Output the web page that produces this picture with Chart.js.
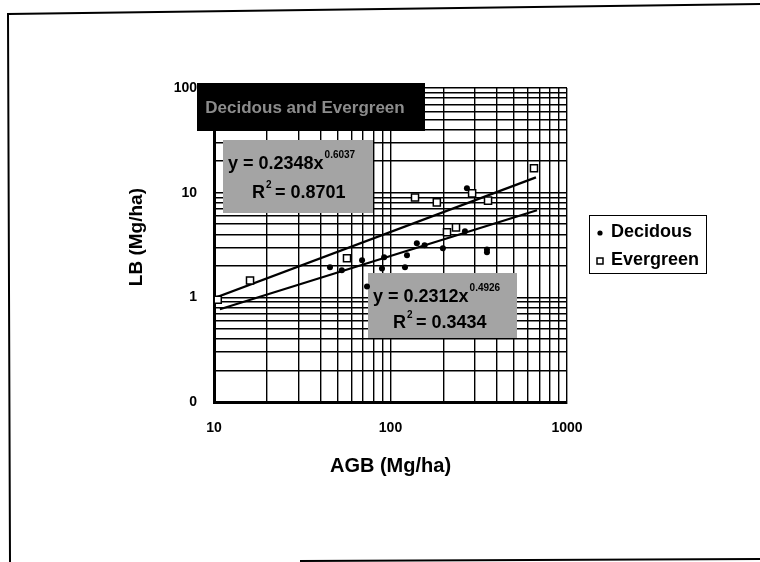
<!DOCTYPE html>
<html>
<head>
<meta charset="utf-8">
<script src="https://cdn.jsdelivr.net/npm/chart.js@4.4.1/dist/chart.umd.min.js"></script>
<style>
  html, body { margin: 0; padding: 0; background: #fff; }
  canvas { display: block; }
</style>
</head>
<body>
<canvas id="c" width="760" height="562"></canvas>
<script>
// ---- Data ----
const deciduousX = [45.4, 53, 69, 73.6, 89.5, 92, 120.8, 124, 141, 156, 198, 264, 271, 352, 352];
const deciduousY = [1.94, 1.81, 2.26, 1.27, 1.89, 2.41, 1.94, 2.52, 3.28, 3.14, 2.94, 4.27, 11.0, 2.87, 2.70];

const evergreenX = [10.5, 16.0, 56.7, 137.7, 183, 209, 235, 290, 357, 650];
const evergreenY = [0.95, 1.45, 2.36, 9.0, 8.08, 4.18, 4.66, 9.85, 8.4, 17.1];

// trend-line end points as drawn in the picture
const evergreenTrendX = [10, 667];
const evergreenTrendY = [0.98, 14.0];
const deciduousTrendX = [10.8, 676];
const deciduousTrendY = [0.77, 6.8];

const seriesNames = ['Decidous', 'Evergreen'];
const titleText = 'Decidous and Evergreen';
const xTitle = 'AGB (Mg/ha)';
const yTitle = '   LB (Mg/ha)';
const xTickValues = [10, 100, 1000];
const xTickLabels = ['10', '100', '1000'];
const yTickValues = [0.1, 1, 10, 100];
const yTickLabels = ['0', '1', '10', '100'];
const eqEvergreen = ['y = 0.2348x', '0.6037', '0.8701'];
const eqDeciduous = ['y = 0.2312x', '0.4926', '0.3434'];

const FONT = "'Liberation Sans', Arial, sans-serif";

function pts(xs, ys) { return xs.map((x, i) => ({x: x, y: ys[i]})); }

function logTicks(min, max) {
  const out = [];
  for (let e = Math.floor(Math.log10(min)); e <= Math.ceil(Math.log10(max)); e++) {
    for (let s = 1; s <= 9; s++) {
      const v = +(s * Math.pow(10, e)).toPrecision(6);
      if (v >= min - 1e-9 && v <= max + 1e-9) out.push({value: v});
    }
  }
  return out;
}

function labelFor(values, labels) {
  return function (v) {
    for (let i = 0; i < values.length; i++) {
      if (Math.abs(v - values[i]) / values[i] < 1e-6) return labels[i];
    }
    return '';
  };
}

function drawEq(ctx, x, y, eq) {
  ctx.save();
  ctx.fillStyle = '#000';
  ctx.textBaseline = 'middle';
  ctx.textAlign = 'left';
  ctx.font = 'bold 18px ' + FONT;
  ctx.fillText(eq[0], x, y);
  const w = ctx.measureText(eq[0]).width;
  ctx.font = 'bold 10px ' + FONT;
  ctx.fillText(eq[1], x + w + 1, y - 9);
  ctx.restore();
}
function drawR2(ctx, x, y, val) {
  ctx.save();
  ctx.fillStyle = '#000';
  ctx.textBaseline = 'middle';
  ctx.textAlign = 'left';
  ctx.font = 'bold 18px ' + FONT;
  ctx.fillText('R', x, y);
  let w = ctx.measureText('R').width;
  ctx.font = 'bold 10px ' + FONT;
  ctx.fillText('2', x + w + 1, y - 8);
  ctx.font = 'bold 18px ' + FONT;
  ctx.fillText(' = ' + val, x + w + 5, y);
  ctx.restore();
}

const boxesPlugin = {
  id: 'boxes',
  beforeDatasetsDraw(chart) {
    const ctx = chart.ctx;
    ctx.save();
    // title box
    ctx.fillStyle = '#000';
    ctx.fillRect(197, 83, 228, 48);
    ctx.fillStyle = '#8c8c8c';
    ctx.font = 'bold 17px ' + FONT;
    ctx.textAlign = 'center';
    ctx.textBaseline = 'middle';
    ctx.fillText(titleText, 305, 108);
    // equation boxes
    ctx.fillStyle = '#a4a4a4';
    ctx.fillRect(223, 140, 150, 73);
    ctx.fillRect(368, 273, 149, 65);
    ctx.restore();
    drawEq(ctx, 228, 164, eqEvergreen);
    drawR2(ctx, 252, 193, eqEvergreen[2]);
    drawEq(ctx, 373, 297, eqDeciduous);
    drawR2(ctx, 393, 323, eqDeciduous[2]);
  },
  afterDraw(chart) {
    const ctx = chart.ctx;
    ctx.save();
    // legend
    ctx.fillStyle = '#fff';
    ctx.strokeStyle = '#000';
    ctx.lineWidth = 1;
    ctx.fillRect(589, 215, 117, 58);
    ctx.strokeRect(589.5, 215.5, 117, 58);
    ctx.fillStyle = '#000';
    ctx.beginPath();
    ctx.arc(600, 233, 2.6, 0, Math.PI * 2);
    ctx.fill();
    ctx.lineWidth = 1.5;
    ctx.strokeRect(597, 258, 6, 6);
    ctx.font = 'bold 18px ' + FONT;
    ctx.textBaseline = 'middle';
    ctx.textAlign = 'left';
    ctx.fillText(chart.data.datasets[0].label, 611, 232);
    ctx.fillText(chart.data.datasets[1].label, 611, 260);
    // outer frame
    ctx.lineWidth = 2;
    ctx.beginPath();
    ctx.moveTo(760, 4);
    ctx.lineTo(8, 14);
    ctx.lineTo(10, 562);
    ctx.moveTo(300, 561);
    ctx.lineTo(760, 559);
    ctx.stroke();
    ctx.restore();
  }
};

new Chart(document.getElementById('c'), {
  type: 'scatter',
  data: {
    datasets: [
      {
        label: seriesNames[0],
        data: pts(deciduousX, deciduousY),
        pointStyle: 'circle',
        pointRadius: 3,
        backgroundColor: '#000',
        borderColor: '#000',
        borderWidth: 0
      },
      {
        label: seriesNames[1],
        data: pts(evergreenX, evergreenY),
        pointStyle: 'rect',
        pointRadius: 5,
        backgroundColor: '#fff',
        borderColor: '#000',
        borderWidth: 1.5
      },
      {
        label: 'Evergreen trend',
        data: pts(evergreenTrendX, evergreenTrendY),
        showLine: true,
        pointRadius: 0,
        borderColor: '#000',
        borderWidth: 2.2,
        fill: false
      },
      {
        label: 'Decidous trend',
        data: pts(deciduousTrendX, deciduousTrendY),
        showLine: true,
        pointRadius: 0,
        borderColor: '#000',
        borderWidth: 2.2,
        fill: false
      }
    ]
  },
  options: {
    responsive: false,
    animation: false,
    devicePixelRatio: 1,
    layout: { padding: { top: 88, right: 193, left: 0, bottom: 0 } },
    plugins: { legend: { display: false }, tooltip: { enabled: false } },
    scales: {
      x: {
        type: 'logarithmic',
        min: 10, max: 1000,
        afterBuildTicks(s) { s.ticks = logTicks(10, 1000); },
        afterFit(s) { s.height = 160; },
        grid: { color: '#000', lineWidth: 1.4, drawTicks: false },
        border: { color: '#000', width: 3 },
        ticks: {
          autoSkip: false, maxRotation: 0, padding: 18,
          color: '#000', font: { family: FONT, size: 14, weight: 'bold' },
          callback: labelFor(xTickValues, xTickLabels)
        },
        title: {
          display: true, text: xTitle, color: '#000',
          font: { family: FONT, size: 20, weight: 'bold' },
          padding: { top: 0, bottom: 84 }
        }
      },
      y: {
        type: 'logarithmic',
        min: 0.1, max: 100,
        afterBuildTicks(s) { s.ticks = logTicks(0.1, 100); },
        afterFit(s) { s.width = 214; },
        grid: { color: '#000', lineWidth: 1.4, drawTicks: false },
        border: { color: '#000', width: 3 },
        ticks: {
          autoSkip: false, padding: 17,
          color: '#000', font: { family: FONT, size: 14, weight: 'bold' },
          callback: labelFor(yTickValues, yTickLabels)
        },
        title: {
          display: true, text: yTitle, color: '#000',
          font: { family: FONT, size: 19, weight: 'bold' },
          padding: { top: 125, bottom: 0 }
        }
      }
    }
  },
  plugins: [boxesPlugin]
});
</script>
</body>
</html>
